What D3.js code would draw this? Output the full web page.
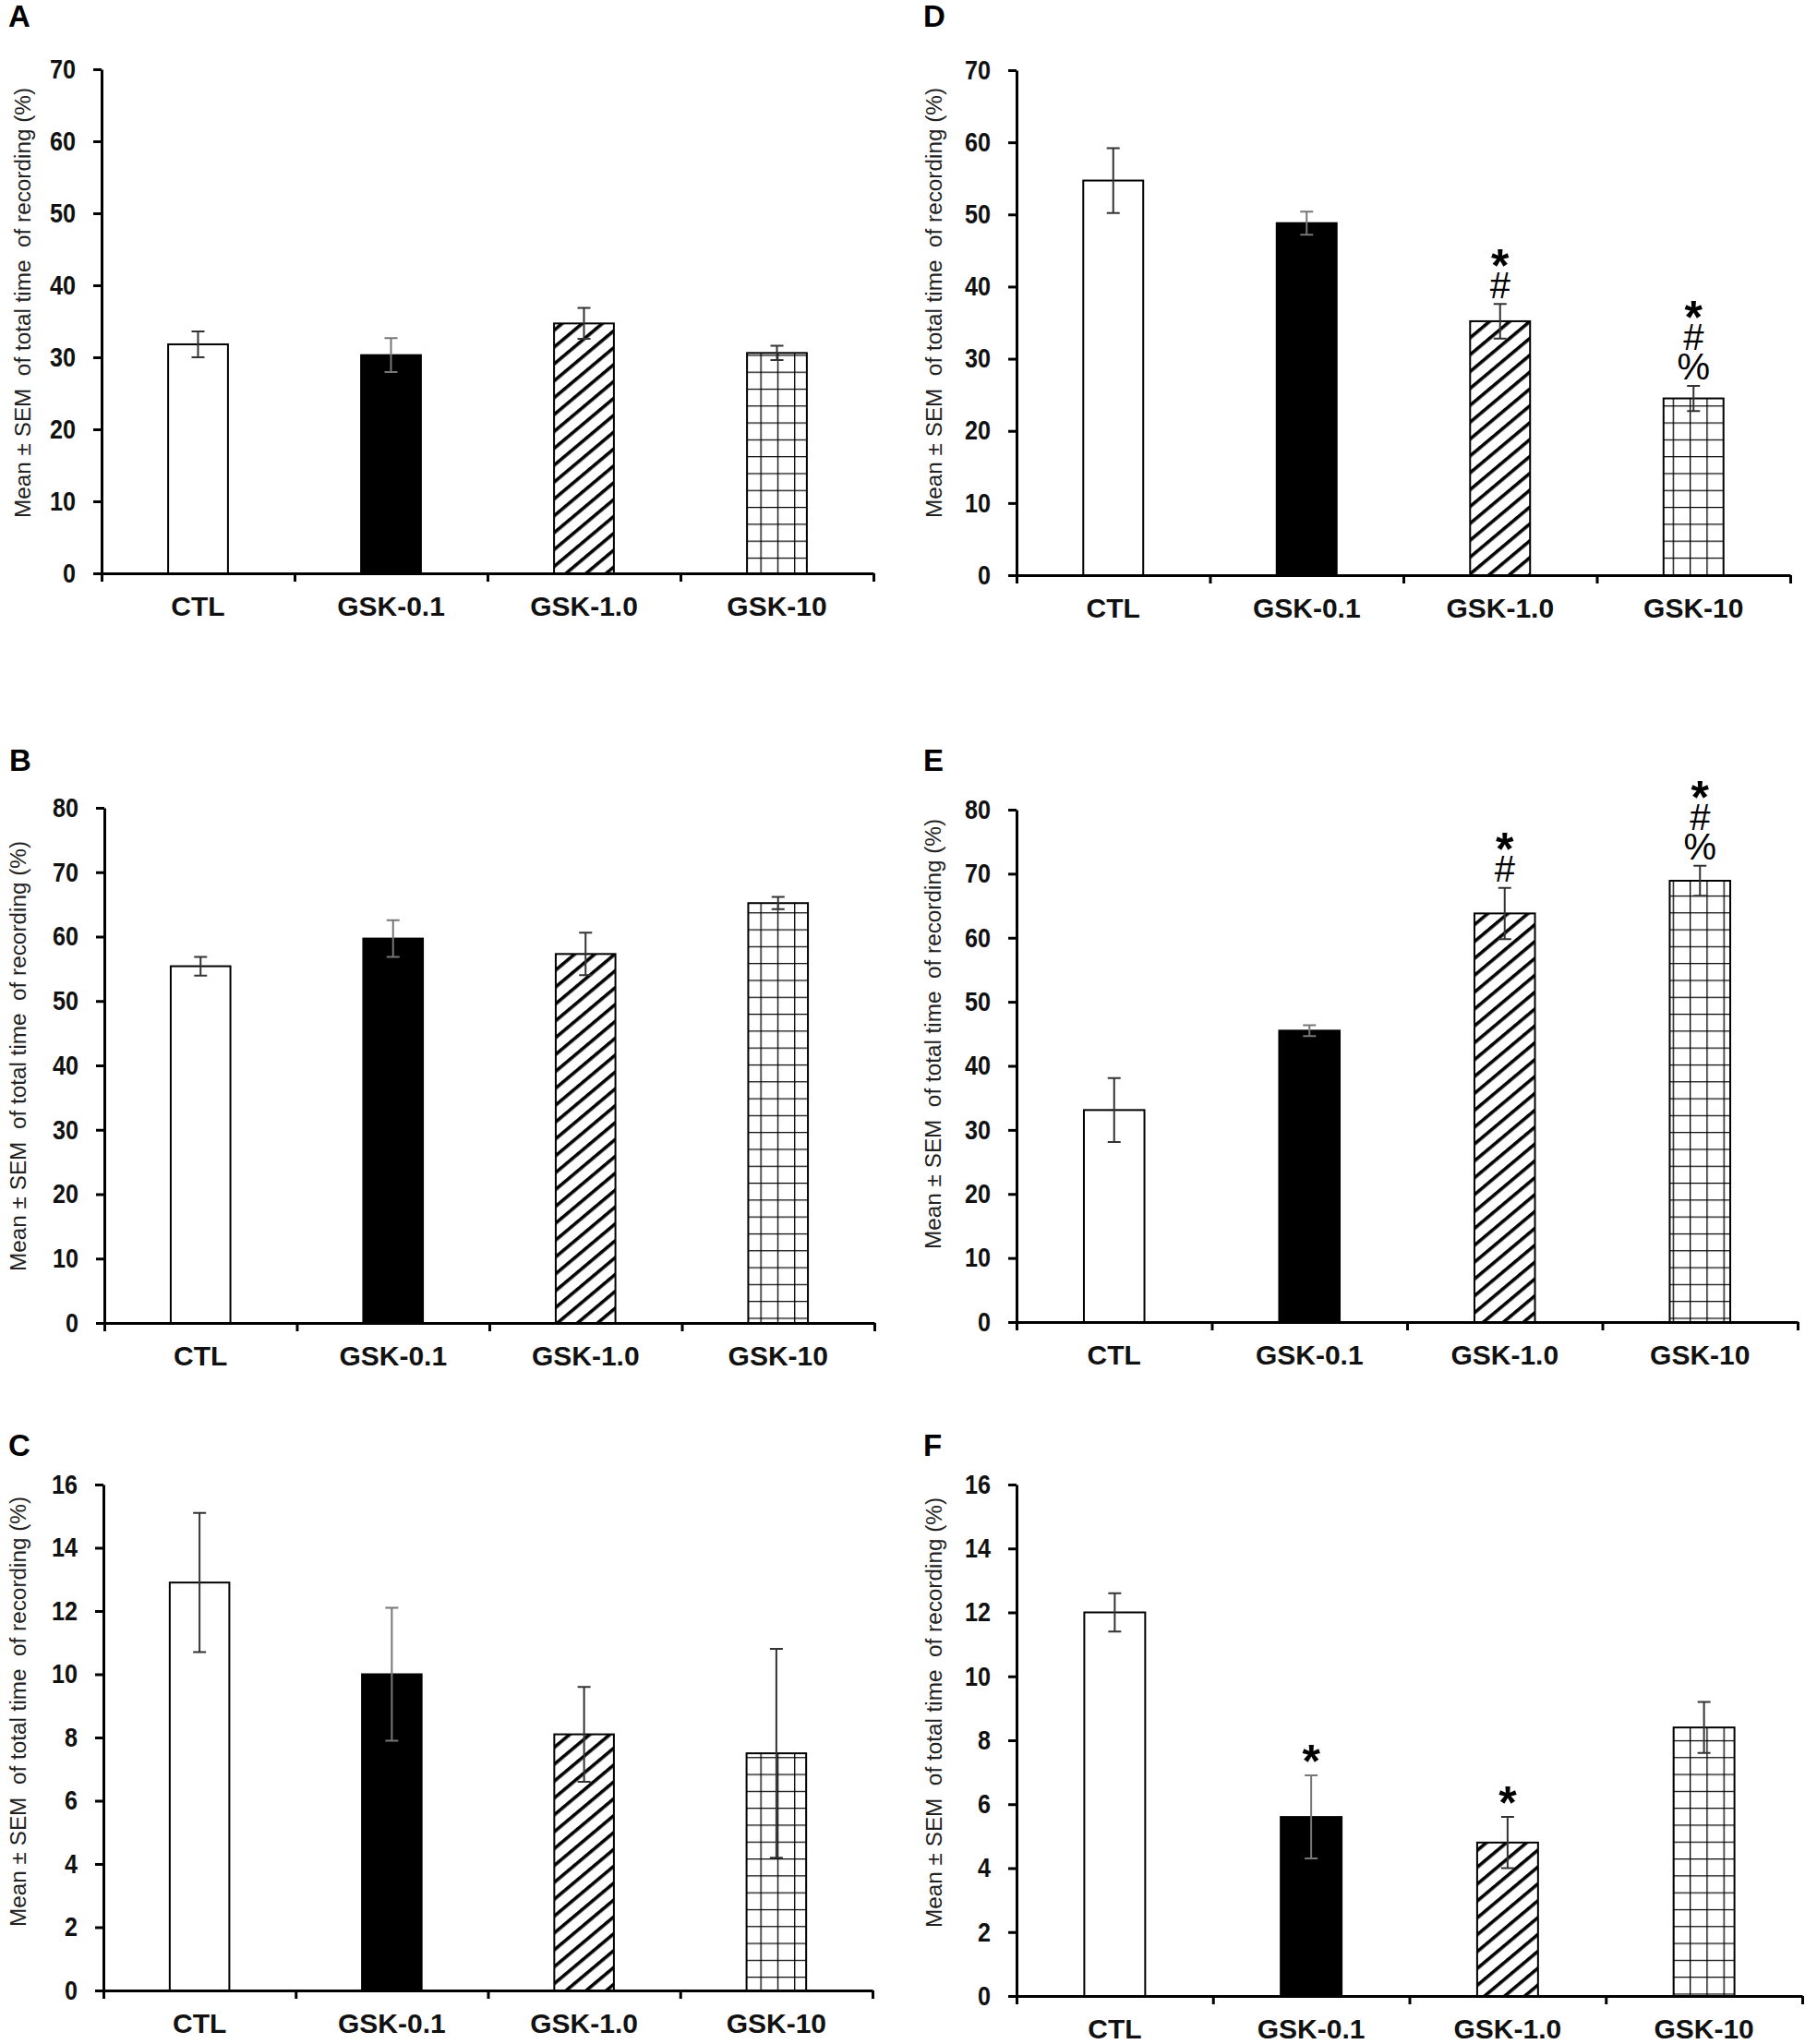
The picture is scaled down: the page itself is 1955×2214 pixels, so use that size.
<!DOCTYPE html>
<html lang="en">
<head>
<meta charset="utf-8">
<script src="https://d3js.org/d3.v7.min.js"></script>
<style>
  body { margin: 0; background: #fff; }
  svg { display: block; }
</style>
</head>
<body>
<div id="chart"></div>
<script>
  'use strict';

  // ---- data ----
  const categories = ["CTL", "GSK-0.1", "GSK-1.0", "GSK-10"];

  const meanA = [31.8, 30.3, 34.7, 30.6];
  const semA  = [1.8, 2.35, 2.15, 1.0];
  const meanB = [55.4, 59.7, 57.3, 65.2];
  const semB  = [1.45, 2.85, 3.3, 0.95];
  const meanC = [12.9, 10.0, 8.1, 7.5];
  const semC  = [2.2, 2.1, 1.5, 3.3];
  const meanD = [54.7, 48.8, 35.2, 24.5];
  const semD  = [4.5, 1.6, 2.4, 1.75];
  const meanE = [33.1, 45.5, 63.8, 68.9];
  const semE  = [5.0, 0.85, 4.0, 2.35];
  const meanF = [12.0, 5.6, 4.8, 8.4];
  const semF  = [0.6, 1.3, 0.8, 0.8];

  const ticks70 = [0, 10, 20, 30, 40, 50, 60, 70];
  const ticks80 = [0, 10, 20, 30, 40, 50, 60, 70, 80];
  const ticks16 = [0, 2, 4, 6, 8, 10, 12, 14, 16];

  // significance marks, listed bottom -> top
  const sigNone = [[], [], [], []];
  const sigD = [[], [], ["#", "*"], ["%", "#", "*"]];
  const sigE = [[], [], ["#", "*"], ["%", "#", "*"]];
  const sigF = [[], ["*"], ["*"], []];

  const yTitle = "Mean \u00B1 SEM  of total time  of recording (%)";

  // ---- layout ----
  const width = 1955, height = 2214;
  const barFrac = 0.31;
  const fontFamily = "'Liberation Sans', Arial, sans-serif";

  const panels = [
    {label: "A", mean: meanA, sem: semA, ticks: ticks70, sig: sigNone,
     left: 110, right: 946, top: 75, bottom: 621, titleX: 25, titleY: 328, labelX: 9, labelY: 29},
    {label: "B", mean: meanB, sem: semB, ticks: ticks80, sig: sigNone,
     left: 113, right: 947, top: 875, bottom: 1433, titleX: 20, titleY: 1144, labelX: 10, labelY: 835},
    {label: "C", mean: meanC, sem: semC, ticks: ticks16, sig: sigNone,
     left: 112, right: 945, top: 1608, bottom: 2156, titleX: 20, titleY: 1854, labelX: 9, labelY: 1577},
    {label: "D", mean: meanD, sem: semD, ticks: ticks70, sig: sigD,
     left: 1101, right: 1939, top: 76, bottom: 623, titleX: 1012, titleY: 328, labelX: 1000, labelY: 29},
    {label: "E", mean: meanE, sem: semE, ticks: ticks80, sig: sigE,
     left: 1101, right: 1947, top: 877, bottom: 1432, titleX: 1011, titleY: 1120, labelX: 1000, labelY: 835},
    {label: "F", mean: meanF, sem: semF, ticks: ticks16, sig: sigF,
     left: 1101, right: 1952, top: 1608, bottom: 2162, titleX: 1012, titleY: 1855, labelX: 1000, labelY: 1577}
  ];

  const svg = d3.select("#chart")
    .append("svg")
    .attr("width", width)
    .attr("height", height)
    .attr("viewBox", `0 0 ${width} ${height}`);

  svg.append("rect").attr("width", width).attr("height", height).attr("fill", "#fff");

  // fill patterns
  const defs = svg.append("defs");
  const fillFor = ["#fff", "#000", "url(#stripes)", "url(#grid)"];

  const stripes = defs.append("pattern")
    .attr("id", "stripes")
    .attr("patternUnits", "userSpaceOnUse")
    .attr("width", 14).attr("height", 14)
    .attr("patternTransform", "rotate(-40)");
  stripes.append("rect").attr("width", 14).attr("height", 14).attr("fill", "#fff");
  stripes.append("rect").attr("y", 0).attr("width", 14).attr("height", 3.6).attr("fill", "#000");

  const grid = defs.append("pattern")
    .attr("id", "grid")
    .attr("patternUnits", "userSpaceOnUse")
    .attr("width", 18.3).attr("height", 18.3);
  grid.append("rect").attr("width", 18.3).attr("height", 18.3).attr("fill", "#fff");
  grid.append("path").attr("d", "M0,0 H18.3 M0,0 V18.3")
    .attr("stroke", "#000").attr("stroke-width", 2.6).attr("fill", "none");

  const drawPanel = (p) => {
    const g = svg.append("g");

    const y = d3.scaleLinear()
      .domain([0, d3.max(p.ticks)])
      .range([p.bottom, p.top]);

    const x = d3.scaleBand()
      .domain(categories)
      .range([p.left, p.right])
      .paddingInner(1 - barFrac)
      .paddingOuter((1 - barFrac) / 2);

    const xEdge = d3.scaleLinear()
      .domain([0, categories.length])
      .range([p.left, p.right]);

    // bars
    g.selectAll("rect.bar")
      .data(p.mean)
      .join("rect")
      .attr("class", "bar")
      .attr("x", (d, i) => x(categories[i]))
      .attr("y", d => y(d))
      .attr("width", x.bandwidth())
      .attr("height", d => y(0) - y(d))
      .attr("fill", (d, i) => fillFor[i])
      .attr("stroke", "#000")
      .attr("stroke-width", 2);

    // error bars
    const cx = i => x(categories[i]) + x.bandwidth() / 2;
    const capW = 7;
    g.selectAll("path.err")
      .data(p.mean)
      .join("path")
      .attr("class", "err")
      .attr("stroke", (d, i) => i === 1 ? "#777" : "#333")
      .attr("stroke-width", 2)
      .attr("fill", "none")
      .attr("d", (d, i) => {
        const hi = y(d + p.sem[i]), lo = y(d - p.sem[i]), c = cx(i);
        return `M${c},${hi} V${lo} M${c - capW},${hi} H${c + capW} M${c - capW},${lo} H${c + capW}`;
      });

    // y axis (condensed bold digits)
    const yAxis = g.append("g")
      .attr("transform", `translate(${p.left},0)`)
      .call(d3.axisLeft(y).tickValues(p.ticks).tickSize(9).tickSizeOuter(0).tickPadding(19));
    yAxis.select(".domain").attr("stroke", "#000").attr("stroke-width", 3);
    yAxis.selectAll(".tick line").attr("stroke", "#000").attr("stroke-width", 3);
    yAxis.selectAll(".tick text")
      .attr("fill", "#111")
      .attr("textLength", d => String(d).length * 14)
      .attr("lengthAdjust", "spacingAndGlyphs")
      .style("font-family", fontFamily)
      .style("font-weight", "bold")
      .style("font-size", "29px");

    // x axis: boundary ticks
    const xAxis = g.append("g")
      .attr("transform", `translate(0,${p.bottom})`)
      .call(d3.axisBottom(xEdge).tickValues(d3.range(categories.length + 1))
        .tickSize(9).tickSizeOuter(0).tickFormat(""));
    xAxis.select(".domain").attr("stroke", "#000").attr("stroke-width", 3);
    xAxis.selectAll(".tick line").attr("stroke", "#000").attr("stroke-width", 3);

    // x axis: category labels
    const xLab = g.append("g")
      .attr("transform", `translate(0,${p.bottom})`)
      .call(d3.axisBottom(x).tickSize(0).tickPadding(24.5));
    xLab.select(".domain").remove();
    xLab.selectAll(".tick text")
      .attr("fill", "#111")
      .style("font-family", fontFamily)
      .style("font-weight", "bold")
      .style("font-size", "30px");

    // y title
    g.append("text")
      .attr("x", p.titleX)
      .attr("y", p.titleY)
      .attr("dy", "0.35em")
      .attr("transform", `rotate(-90, ${p.titleX}, ${p.titleY})`)
      .attr("text-anchor", "middle")
      .attr("textLength", 466)
      .attr("lengthAdjust", "spacingAndGlyphs")
      .style("white-space", "pre")
      .style("font-family", fontFamily)
      .style("font-size", "23px")
      .attr("fill", "#222")
      .text(yTitle);

    // panel letter
    g.append("text")
      .attr("x", p.labelX)
      .attr("y", p.labelY)
      .style("font-family", fontFamily)
      .style("font-weight", "bold")
      .style("font-size", "33px")
      .attr("fill", "#000")
      .text(p.label);

    // significance marks: one text per bar, one tspan per symbol
    const symSize = {"*": 50, "#": 40, "%": 40};
    const glyphMid = {"*": 0.57, "#": 0.36, "%": 0.36};
    p.sig.forEach((marks, i) => {
      if (!marks.length) return;
      const t = g.append("text")
        .attr("text-anchor", "middle")
        .style("font-family", fontFamily)
        .attr("fill", "#000");
      let centre = y(p.mean[i] + p.sem[i]);
      marks.forEach((m, k) => {
        centre -= (k === 0) ? (m === "*" ? 27 : 21) : 32;
        t.append("tspan")
          .attr("x", cx(i))
          .attr("y", centre + glyphMid[m] * symSize[m])
          .style("font-size", symSize[m] + "px")
          .style("font-weight", m === "*" ? "bold" : "normal")
          .text(m);
      });
    });
  };

  panels.forEach(drawPanel);
</script>
</body>
</html>
